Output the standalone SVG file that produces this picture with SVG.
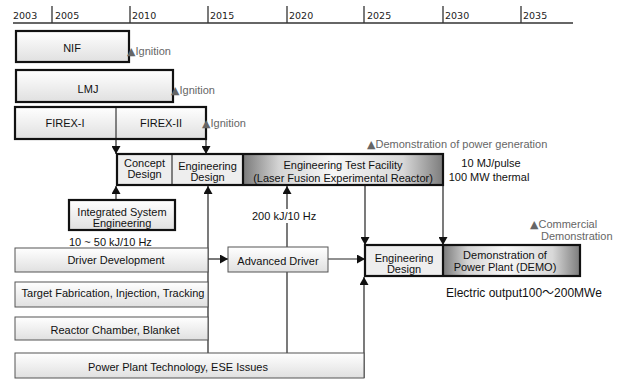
<svg xmlns="http://www.w3.org/2000/svg" width="628" height="380" viewBox="0 0 628 380">
<defs>
  <linearGradient id="gLight" x1="0" y1="0" x2="0" y2="1">
    <stop offset="0" stop-color="#ffffff"/>
    <stop offset="1" stop-color="#e0e0e0"/>
  </linearGradient>
  <linearGradient id="gCyl" x1="0" y1="0" x2="1" y2="0">
    <stop offset="0" stop-color="#7a7a7a"/>
    <stop offset="0.18" stop-color="#d4d4d4"/>
    <stop offset="0.45" stop-color="#f7f7f7"/>
    <stop offset="0.8" stop-color="#d8d8d8"/>
    <stop offset="1" stop-color="#7c7c7c"/>
  </linearGradient>
  <marker id="arr" viewBox="0 0 8 9" refX="8" refY="4.5" markerWidth="8" markerHeight="9" markerUnits="userSpaceOnUse" orient="auto">
    <path d="M0,0 L8,4.5 L0,9 z" fill="#111"/>
  </marker>
</defs>
<style>
  text { font-family: "Liberation Sans", Arial, "DejaVu Sans", sans-serif; font-size: 11px; fill: #111; }
  .axis text { font-family: "DejaVu Sans", sans-serif; font-size: 9.5px; fill: #222; }
  .axis line { stroke: #333; stroke-width: 1.3; }
  .thick { stroke: #111; stroke-width: 2.2; }
  .thin { stroke: #555; stroke-width: 1; }
  .div { stroke: #111; stroke-width: 1; }
  .lt { fill: url(#gLight); }
  .flat { fill: #eeeeee; }
  .cyl { fill: url(#gCyl); }
  .c { text-anchor: middle; }
  .gray { fill: #666; }
  .tri { font-family: "DejaVu Sans", sans-serif; font-size: 11px; fill: #666; }
  .conn line, .conn path { stroke: #222; stroke-width: 1.2; fill: none; }
</style>
<rect width="628" height="380" fill="#ffffff"/>

<g class="axis" id="axis">
  <line x1="13" y1="23" x2="573" y2="23"/>
  <line x1="52" y1="6" x2="52" y2="23"/>
  <line x1="130" y1="6" x2="130" y2="23"/>
  <line x1="208" y1="6" x2="208" y2="23"/>
  <line x1="287" y1="6" x2="287" y2="23"/>
  <line x1="364" y1="6" x2="364" y2="23"/>
  <line x1="443" y1="6" x2="443" y2="23"/>
  <line x1="521" y1="6" x2="521" y2="23"/>
  <text x="13" y="19">2003</text>
  <text x="55" y="19">2005</text>
  <text x="132" y="19">2010</text>
  <text x="210" y="19">2015</text>
  <text x="289" y="19">2020</text>
  <text x="367" y="19">2025</text>
  <text x="445" y="19">2030</text>
  <text x="523" y="19">2035</text>
</g>

<g class="conn" id="connectors">
  <line x1="116" y1="139" x2="116" y2="154" marker-end="url(#arr)"/>
  <line x1="206" y1="139" x2="206" y2="154" marker-end="url(#arr)"/>
  <line x1="116" y1="200" x2="116" y2="186" marker-end="url(#arr)"/>
  <line x1="208" y1="353" x2="208" y2="186" marker-end="url(#arr)"/>
  <line x1="208" y1="259" x2="228" y2="259" marker-end="url(#arr)"/>
  <line x1="287" y1="353" x2="287" y2="272"/>
  <line x1="287" y1="247" x2="287" y2="186" marker-end="url(#arr)"/>
  <line x1="328" y1="259" x2="365" y2="259" marker-end="url(#arr)"/>
  <line x1="365" y1="186" x2="365" y2="245" marker-end="url(#arr)"/>
  <line x1="443" y1="186" x2="443" y2="245" marker-end="url(#arr)"/>
  <line x1="364" y1="378" x2="364" y2="277" marker-end="url(#arr)"/>
</g>

<g id="nif">
  <rect x="16" y="31" width="113" height="31" class="lt thick"/>
  <text x="72" y="52" class="c">NIF</text>
  <text x="127" y="55" class="gray"><tspan class="tri">▲</tspan>Ignition</text>
</g>
<g id="lmj">
  <rect x="16" y="70" width="157" height="32" class="lt thick"/>
  <text x="88" y="93" class="c">LMJ</text>
  <text x="171" y="94" class="gray"><tspan class="tri">▲</tspan>Ignition</text>
</g>
<g id="firex">
  <rect x="15" y="107" width="191" height="32" class="lt thick"/>
  <line x1="116" y1="107" x2="116" y2="139" class="div"/>
  <text x="65" y="127" class="c">FIREX-I</text>
  <text x="161" y="127" class="c">FIREX-II</text>
  <text x="202" y="127" class="gray"><tspan class="tri">▲</tspan>Ignition</text>
</g>

<g id="etf-row">
  <rect x="117" y="154" width="55" height="31" class="flat"/>
  <rect x="172" y="154" width="71" height="31" class="flat"/>
  <rect x="243" y="154" width="200" height="31" class="cyl"/>
  <rect x="117" y="154" width="326" height="31" fill="none" class="thick"/>
  <line x1="172" y1="154" x2="172" y2="185" class="div"/>
  <line x1="243" y1="154" x2="243" y2="185" class="thick"/>
  <text x="144.5" y="167" class="c">Concept</text>
  <text x="144.5" y="178" class="c">Design</text>
  <text x="207.5" y="170" class="c">Engineering</text>
  <text x="207.5" y="181" class="c">Design</text>
  <text x="343" y="169" class="c">Engineering Test Facility</text>
  <text x="343" y="182" class="c">(Laser Fusion Experimental Reactor)</text>
</g>

<g id="etf-notes">
  <text x="367" y="148" class="gray"><tspan class="tri">▲</tspan>Demonstration of power generation</text>
  <text x="491" y="167" class="c">10 MJ/pulse</text>
  <text x="489" y="181" class="c">100 MW thermal</text>
</g>

<g id="ise">
  <rect x="69" y="200" width="106" height="30" class="lt thick"/>
  <text x="122" y="216" class="c">Integrated System</text>
  <text x="122" y="227" class="c">Engineering</text>
  <text x="69" y="246">10 ~ 50 kJ/10 Hz</text>
</g>

<g id="driver">
  <rect x="15" y="248" width="193" height="24" class="lt thin"/>
  <text x="116" y="264" class="c">Driver Development</text>
</g>
<g id="target">
  <rect x="15" y="282" width="193" height="25" class="lt thin"/>
  <text x="113" y="297" class="c">Target Fabrication, Injection, Tracking</text>
</g>
<g id="reactor">
  <rect x="15" y="317" width="193" height="23" class="lt thin"/>
  <text x="115" y="334" class="c">Reactor Chamber, Blanket</text>
</g>
<g id="powerplant">
  <rect x="15" y="353" width="349" height="25" class="lt thin"/>
  <text x="178" y="371" class="c">Power Plant Technology, ESE Issues</text>
</g>

<g id="advdriver">
  <rect x="228" y="247" width="100" height="25" class="lt thin"/>
  <text x="278" y="265" class="c">Advanced Driver</text>
</g>
<g id="label200">
  <rect x="251" y="209" width="67" height="14" fill="#ffffff"/>
  <text x="252" y="220">200 kJ/10 Hz</text>
</g>

<g id="demo-row">
  <rect x="365" y="245" width="78" height="31" class="flat"/>
  <rect x="443" y="245" width="137" height="31" class="cyl"/>
  <rect x="365" y="245" width="215" height="31" fill="none" class="thick"/>
  <line x1="443" y1="245" x2="443" y2="276" class="thick"/>
  <text x="404" y="262" class="c">Engineering</text>
  <text x="404" y="273" class="c">Design</text>
  <text x="505" y="259" class="c">Demonstration of</text>
  <text x="505" y="271" class="c">Power Plant (DEMO)</text>
</g>

<g id="demo-notes">
  <text x="530" y="228" class="gray"><tspan class="tri">▲</tspan>Commercial<tspan x="541" y="240">Demonstration</tspan></text>
  <text x="446" y="297" style="font-size:12px; font-family:'Liberation Sans','Noto Sans CJK JP',sans-serif">Electric output100～200MWe</text>
</g>
</svg>
